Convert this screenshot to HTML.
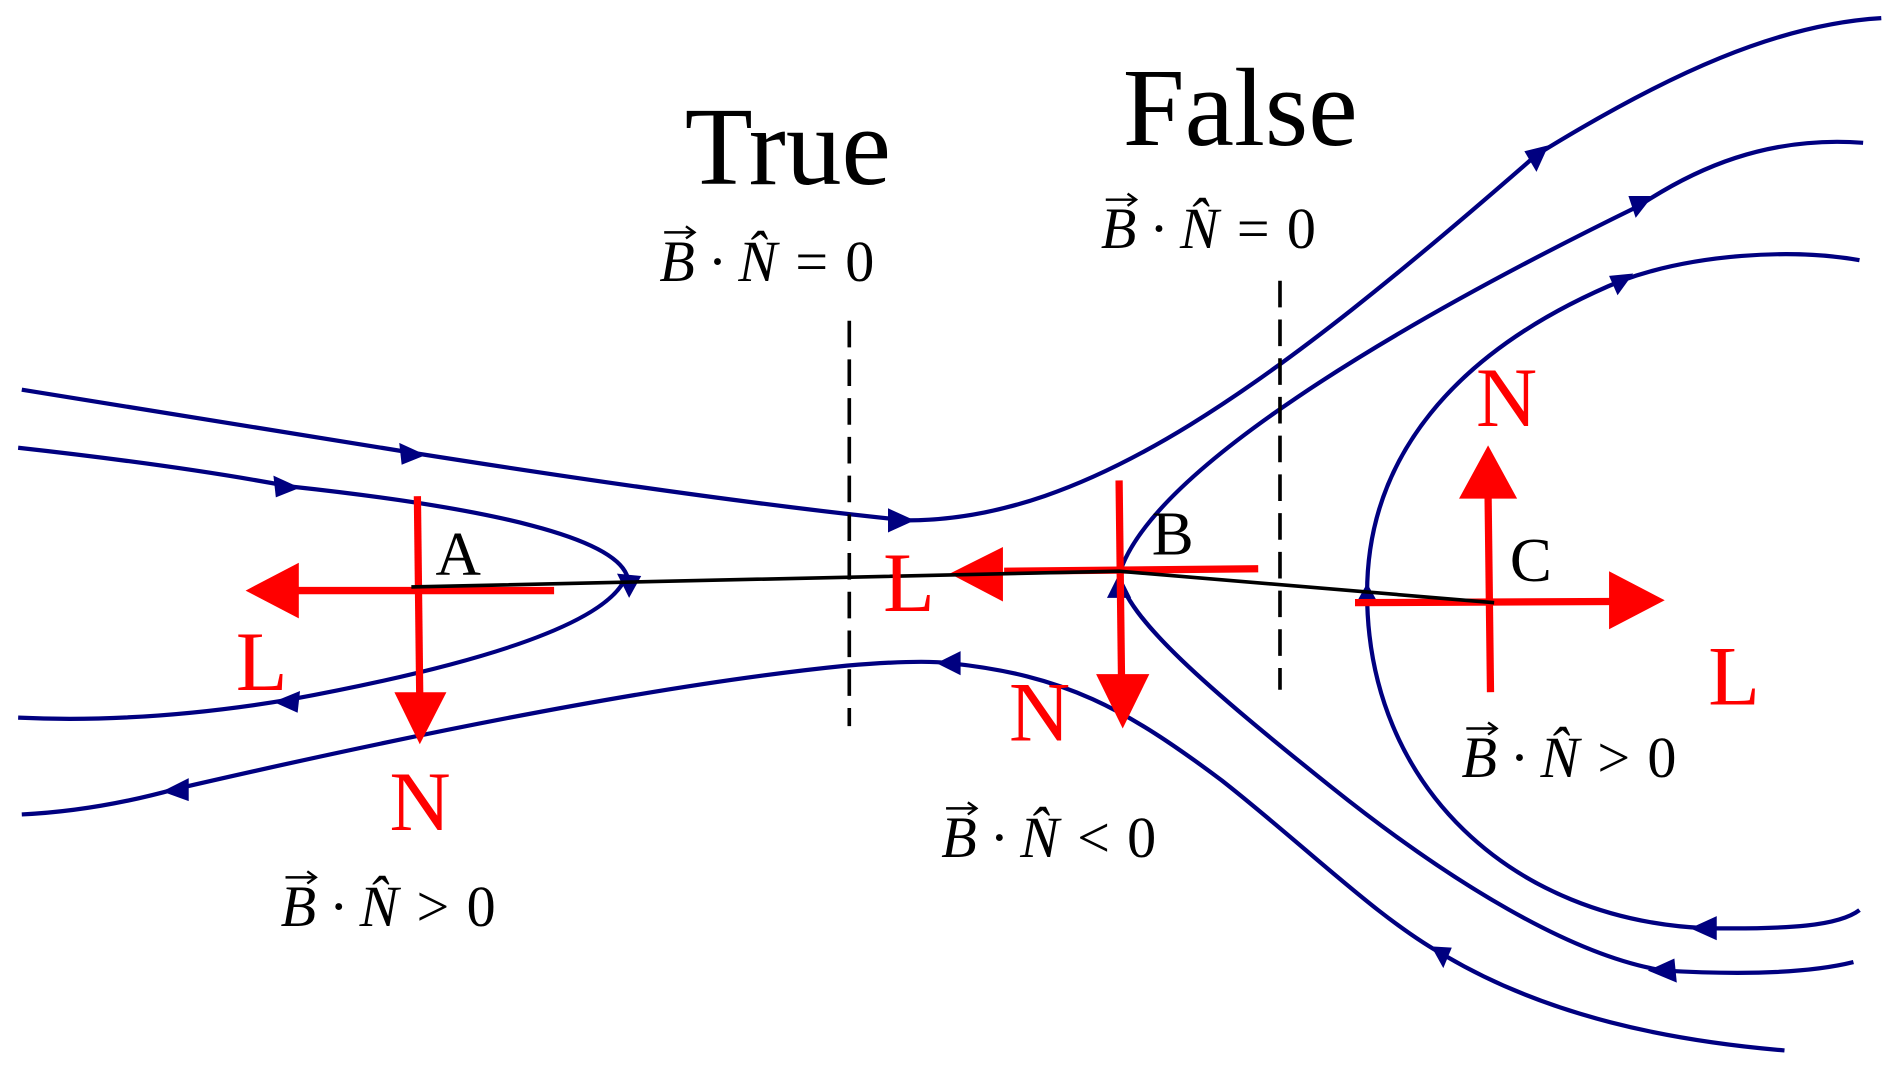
<!DOCTYPE html>
<html><head><meta charset="utf-8"><style>
html,body{margin:0;padding:0;background:#fff;}
svg{display:block}
.m{font-family:"Liberation Serif",serif;font-style:italic;font-size:48px;fill:#000}
.n{font-style:normal}
.r{font-family:"Liberation Serif",serif;font-size:70px;fill:#f00}
.t{font-family:"Liberation Serif",serif;font-size:92px;fill:#000}
.b{font-family:"Liberation Serif",serif;font-size:52px;fill:#000}
</style></head><body>
<svg width="1897" height="1071" viewBox="0 0 1568 885" preserveAspectRatio="none" xmlns="http://www.w3.org/2000/svg">
<g fill="none" stroke="#000080" stroke-width="3.5">
<path d="M18,322 L340,374 Q600,415 750,430 C900,430 1050,320 1270,128 C1380,60 1470,20 1555,15"/>
<path d="M15,370 Q150,385 240,402 Q500,430 518,475 Q500,530 240,578 Q120,598 15,593"/>
<path d="M18,673 Q80,670 145,652 Q500,570 700,550 Q760,545 785,548 C880,558 930,585 1010,645 C1080,700 1140,760 1195,790 C1280,840 1380,860 1475,868"/>
<path d="M1540,118 C1460,112 1400,140 1355,170 C1150,270 950,390 925,475 C930,510 1000,570 1100,650 C1200,730 1300,790 1375,802 Q1480,808 1532,795"/>
<path d="M1537,215 C1480,205 1400,210 1340,232 C1200,290 1130,380 1130,490 C1130,650 1250,760 1410,767 C1480,768 1520,765 1537,752"/>
</g>
<g fill="#000080">
<polygon points="352,376 330,366 332,384"/>
<polygon points="248,403 226,393 228,411"/>
<polygon points="520,494 510,474 530,476"/>
<polygon points="226,580 248,571 246,589"/>
<polygon points="756,430 734,420 734,440"/>
<polygon points="1280,120 1260,125 1270,142"/>
<polygon points="1366,162 1346,162 1352,180"/>
<polygon points="1350,226 1330,228 1337,244"/>
<polygon points="925,474 915,494 935,494"/>
<polygon points="1130,482 1120,500 1140,500"/>
<polygon points="774,548 794,538 794,558"/>
<polygon points="1397,767 1419,757 1419,777"/>
<polygon points="1362,802 1384,792 1386,812"/>
<polygon points="1183,782 1200,783 1193,800"/>
<polygon points="134,654 156,643 156,662"/>
</g>
<g stroke="#f00" stroke-width="6" fill="none">
<line x1="345" y1="410" x2="347" y2="580"/>
<line x1="458" y1="488" x2="245" y2="488"/>
<line x1="925" y1="397" x2="927" y2="560"/>
<line x1="1040" y1="470" x2="830" y2="472"/>
<line x1="1232" y1="572" x2="1230" y2="410"/>
<line x1="1120" y1="498" x2="1332" y2="497"/>
</g>
<g fill="#f00">
<polygon points="347,615 326,572 369,572"/>
<polygon points="203,488 247,465 247,511"/>
<polygon points="928,602 906,557 950,557"/>
<polygon points="785,474 829,452 829,497"/>
<polygon points="1230,368 1206,412 1254,412"/>
<polygon points="1376,496 1330,472 1330,520"/>
</g>
<path d="M340,485 L925,472 L1235,498" fill="none" stroke="#000" stroke-width="3"/>
<g stroke="#000" stroke-width="3" stroke-dasharray="22,10">
<line x1="702" y1="265" x2="702" y2="600"/>
<line x1="1058" y1="232" x2="1058" y2="570"/>
</g>
<text class="t" x="566" y="152">True</text>
<text class="t" x="928" y="120">False</text>
<text class="m" x="545" y="232">B · N̂ = <tspan class="n">0</tspan></text>
<text class="m" x="910" y="205">B · N̂ = <tspan class="n">0</tspan></text>
<text class="m" x="232" y="765">B · N̂ &gt; <tspan class="n">0</tspan></text>
<text class="m" x="778" y="708">B · N̂ &lt; <tspan class="n">0</tspan></text>
<text class="m" x="1208" y="642">B · N̂ &gt; <tspan class="n">0</tspan></text>
<g stroke="#000" stroke-width="2" fill="none">
<path d="M549,192 L573,192 M567,187 L574,192 L567,197"/>
<path d="M914,165 L938,165 M932,160 L939,165 L932,170"/>
<path d="M236,725 L260,725 M254,720 L261,725 L254,730"/>
<path d="M782,668 L806,668 M800,663 L807,668 L800,673"/>
<path d="M1212,602 L1236,602 M1230,597 L1237,602 L1230,607"/>
</g>
<text class="b" x="360" y="475">A</text>
<text class="b" x="952" y="458">B</text>
<text class="b" x="1248" y="480">C</text>
<text class="r" x="195" y="570">L</text>
<text class="r" x="322" y="686">N</text>
<text class="r" x="730" y="505">L</text>
<text class="r" x="834" y="612">N</text>
<text class="r" x="1220" y="352">N</text>
<text class="r" x="1412" y="582">L</text>
</svg>
</body></html>
